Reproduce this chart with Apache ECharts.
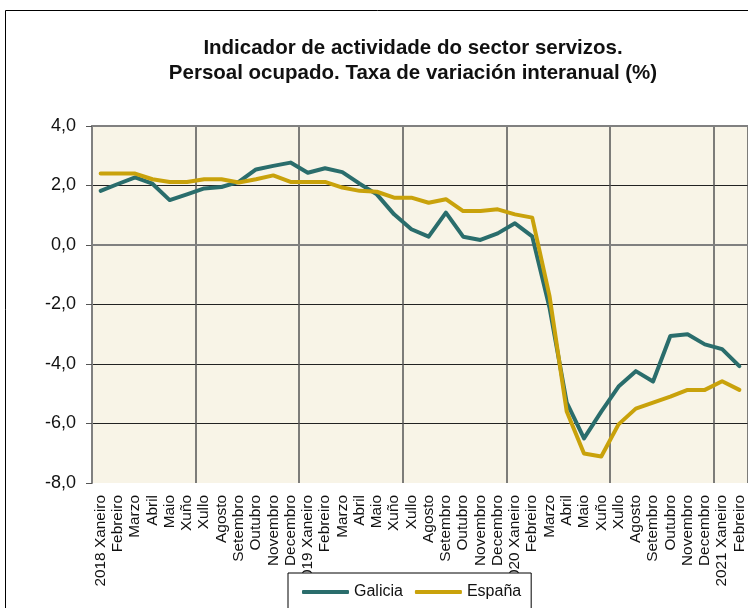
<!DOCTYPE html>
<html>
<head>
<meta charset="utf-8">
<script src="https://cdn.jsdelivr.net/npm/echarts@6/dist/echarts.min.js"></script>
<style>
html,body{margin:0;padding:0;background:#fff;}
#chart{width:748px;height:608px;}
</style>
</head>
<body>
<div id="chart"></div>
<script>
const titleLines = ["Indicador de actividade do sector servizos.", "Persoal ocupado. Taxa de variación interanual (%)"];
const categories = [
  "2018 Xaneiro","Febreiro","Marzo","Abril","Maio","Xuño","Xullo","Agosto","Setembro","Outubro","Novembro","Decembro",
  "2019 Xaneiro","Febreiro","Marzo","Abril","Maio","Xuño","Xullo","Agosto","Setembro","Outubro","Novembro","Decembro",
  "2020 Xaneiro","Febreiro","Marzo","Abril","Maio","Xuño","Xullo","Agosto","Setembro","Outubro","Novembro","Decembro",
  "2021 Xaneiro","Febreiro"
];
const galicia = [
  1.82, 2.05, 2.27, 2.06, 1.51, 1.70, 1.90, 1.95, 2.12, 2.54, 2.66, 2.77,
  2.43, 2.58, 2.45, 2.06, 1.70, 1.03, 0.53, 0.28, 1.09, 0.28, 0.17, 0.39,
  0.73, 0.29, -2.10, -5.30, -6.50, -5.60, -4.76, -4.24, -4.59, -3.06, -3.00, -3.34,
  -3.50, -4.07
];
const espana = [
  2.40, 2.40, 2.40, 2.21, 2.12, 2.12, 2.21, 2.21, 2.10, 2.21, 2.34, 2.12,
  2.12, 2.12, 1.93, 1.82, 1.79, 1.59, 1.59, 1.42, 1.54, 1.14, 1.14, 1.20,
  1.03, 0.92, -1.71, -5.60, -7.01, -7.11, -6.03, -5.50, -5.30, -5.10, -4.87, -4.87,
  -4.58, -4.87
];
const seriesNames = ["Galicia", "España"];
const yMin = -8, yMax = 4, yStep = 2;
const monthsPerGridLine = 6;

const font = "'Liberation Sans', Arial, sans-serif";
const every6 = (idx) => idx % monthsPerGridLine === 0;
const chart = echarts.init(document.getElementById('chart'), null, {renderer: 'canvas'});
chart.setOption({
  backgroundColor: '#ffffff',
  animation: false,
  textStyle: {fontFamily: font},
  graphic: [{
    type: 'rect', z: -10, silent: true,
    shape: {x: 5.5, y: 10.5, width: 900, height: 800},
    style: {fill: 'none', stroke: '#000', lineWidth: 1}
  }],
  title: {
    text: titleLines.join('\n'),
    left: 408, top: 31, textAlign: 'center',
    textStyle: {fontFamily: font, fontSize: 20.5, fontWeight: 'bold', color: '#111', lineHeight: 25}
  },
  legend: {
    data: seriesNames,
    left: 288, top: 573,
    padding: [11, 10, 30, 14],
    itemGap: 12, itemWidth: 47, itemHeight: 4,
    icon: 'roundRect',
    backgroundColor: '#ffffff', borderColor: '#000', borderWidth: 1,
    textStyle: {fontFamily: font, fontSize: 16, color: '#111'}
  },
  grid: {
    left: 92, top: 126, width: 657, height: 357,
    show: true, backgroundColor: '#f8f4e7', borderWidth: 0,
    containLabel: false
  },
  xAxis: [{
    type: 'category', data: categories, boundaryGap: true,
    axisLine: {show: true, lineStyle: {color: '#808080', width: 2}},
    axisTick: {show: true, interval: every6, length: 5, inside: false, lineStyle: {color: '#808080', width: 1.5}},
    splitLine: {show: true, interval: every6, lineStyle: {color: '#555', width: 1.5}},
    axisLabel: {interval: 0, rotate: 90, margin: 12, fontFamily: font, fontSize: 15.4, color: '#111'}
  }, {
    type: 'category', data: categories, position: 'top', boundaryGap: true,
    axisLine: {show: true, lineStyle: {color: '#808080', width: 2}},
    axisTick: {show: false}, axisLabel: {show: false}, splitLine: {show: false}
  }],
  yAxis: {
    type: 'value', min: yMin, max: yMax, interval: yStep,
    axisLine: {show: true, lineStyle: {color: '#808080', width: 2}},
    axisTick: {show: true, length: 6, inside: false, lineStyle: {color: '#555', width: 1}},
    splitLine: {show: true, showMinLine: false, showMaxLine: false, lineStyle: {color: '#222', width: 1}},
    axisLabel: {margin: 16, fontFamily: font, fontSize: 18, color: '#111',
      formatter: v => v.toFixed(1).replace('.', ',')}
  },
  series: [
    {name: seriesNames[0], type: 'line', data: galicia, symbol: 'none', smooth: false,
     lineStyle: {color: '#2a6d6c', width: 4, cap: 'round', join: 'round'}, itemStyle: {color: '#2a6d6c'}},
    {name: seriesNames[1], type: 'line', data: espana, symbol: 'none', smooth: false,
     lineStyle: {color: '#c9a20b', width: 4, cap: 'round', join: 'round'}, itemStyle: {color: '#c9a20b'}}
  ]
});
</script>
</body>
</html>
